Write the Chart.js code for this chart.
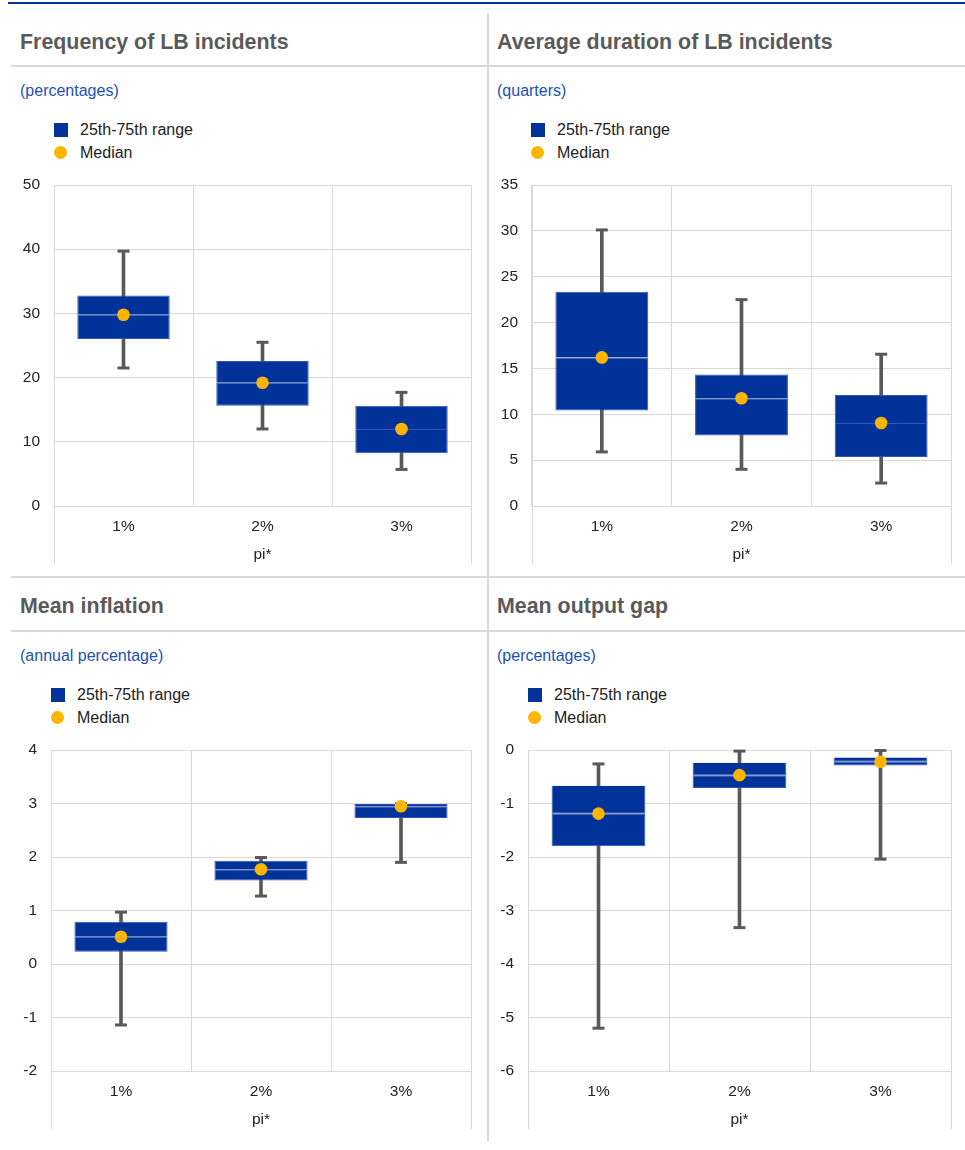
<!DOCTYPE html>
<html>
<head>
<meta charset="utf-8">
<script src="https://cdn.jsdelivr.net/npm/chart.js@4.4.0/dist/chart.umd.min.js"></script>
<style>
body { margin: 0; background: #fff; font-family: 'Liberation Sans', Arial, sans-serif; }
#page { position: relative; width: 965px; height: 1150px; overflow: hidden; }
.line { position: absolute; background: #d9d9d9; }
.title { position: absolute; height: 30px; line-height: 30px; font-size: 21.4px; font-weight: bold; color: #5a5a5a; white-space: nowrap; }
.sub { position: absolute; height: 20px; line-height: 20px; font-size: 16px; color: #1d4fb5; white-space: nowrap; }
.leg { position: absolute; height: 20px; line-height: 20px; font-size: 16px; color: #222; white-space: nowrap; }
.sq { position: absolute; width: 14px; height: 14px; background: #003299; }
.dot { position: absolute; width: 13px; height: 13px; border-radius: 50%; background: #ffb400; }
canvas { position: absolute; }
</style>
</head>
<body>
<div id="page">
    <div class="line" style="left:8px;top:2px;width:957px;height:2px;background:#003299"></div>
    <div class="line" style="left:487px;top:13px;width:2px;height:1128px"></div>
    <div class="line" style="left:11px;top:65px;width:954px;height:2px"></div>
    <div class="line" style="left:11px;top:576px;width:954px;height:2px"></div>
    <div class="line" style="left:11px;top:630px;width:954px;height:2px"></div>

    <div class="title" style="left:20px;top:27px">Frequency of LB incidents</div>
    <div class="title" style="left:497px;top:27px">Average duration of LB incidents</div>
    <div class="title" style="left:20px;top:591px">Mean inflation</div>
    <div class="title" style="left:497px;top:591px">Mean output gap</div>

    <div class="sub" style="left:20px;top:81px">(percentages)</div>
    <div class="sub" style="left:497px;top:81px">(quarters)</div>
    <div class="sub" style="left:20px;top:646px">(annual percentage)</div>
    <div class="sub" style="left:497px;top:646px">(percentages)</div>

    <div class="sq" style="left:54px;top:123px"></div>
    <div class="leg" style="left:80px;top:120px">25th-75th range</div>
    <div class="dot" style="left:54px;top:146px"></div>
    <div class="leg" style="left:80px;top:143px">Median</div>

    <div class="sq" style="left:531px;top:123px"></div>
    <div class="leg" style="left:557px;top:120px">25th-75th range</div>
    <div class="dot" style="left:531px;top:146px"></div>
    <div class="leg" style="left:557px;top:143px">Median</div>

    <div class="sq" style="left:51px;top:688px"></div>
    <div class="leg" style="left:77px;top:685px">25th-75th range</div>
    <div class="dot" style="left:51px;top:711px"></div>
    <div class="leg" style="left:77px;top:708px">Median</div>

    <div class="sq" style="left:528px;top:688px"></div>
    <div class="leg" style="left:554px;top:685px">25th-75th range</div>
    <div class="dot" style="left:528px;top:711px"></div>
    <div class="leg" style="left:554px;top:708px">Median</div>

    <canvas id="freqChart" width="480" height="394" style="left:0px;top:170px"></canvas>
    <canvas id="durChart" width="480" height="394" style="left:480px;top:170px"></canvas>
    <canvas id="inflChart" width="480" height="394" style="left:0px;top:735px"></canvas>
    <canvas id="gapChart" width="480" height="394" style="left:480px;top:735px"></canvas>
</div>
<script>
const categories = ['1%', '2%', '3%'];
const axisTitle = 'pi*';

// frequency of LB incidents (percentages)
const freqMin = [21.5, 12.0, 5.7];
const freqQ1 = [26.0, 15.6, 8.2];
const freqMedian = [29.8, 19.2, 12.0];
const freqQ3 = [32.8, 22.6, 15.6];
const freqMax = [39.7, 25.5, 17.7];
const freqAxis = [0, 50, 10];

// average duration (quarters)
const durMin = [5.9, 4.0, 2.5];
const durQ1 = [10.4, 7.7, 5.35];
const durMedian = [16.2, 11.75, 9.05];
const durQ3 = [23.35, 14.35, 12.1];
const durMax = [30.1, 22.5, 16.55];
const durAxis = [0, 35, 5];

// mean inflation (annual percentage)
const inflMin = [-1.14, 1.27, 1.9];
const inflQ1 = [0.23, 1.56, 2.73];
const inflMedian = [0.51, 1.77, 2.95];
const inflQ3 = [0.79, 1.93, 2.99];
const inflMax = [0.97, 1.99, 3.0];
const inflAxis = [-2, 4, 1];

// mean output gap (percentages)
const gapMin = [-5.2, -3.32, -2.04];
const gapQ1 = [-1.8, -0.71, -0.29];
const gapMedian = [-1.19, -0.47, -0.22];
const gapQ3 = [-0.67, -0.24, -0.14];
const gapMax = [-0.26, -0.02, -0.01];
const gapAxis = [-6, 0, 1];

const BLUE = '#003299';
const EDGE = '#2f56b0';
const YELLOW = '#ffb400';
const WHISKER = '#595959';
const GRID = '#d9d9d9';
const FONT = "'Liberation Sans', Arial, sans-serif";

// outer frame lines run on below the x axis, like the original
const framePlugin = {
    id: 'frame',
    afterDraw(chart) {
        const ctx = chart.ctx;
        const area = chart.chartArea;
        ctx.save();
        ctx.strokeStyle = GRID;
        ctx.lineWidth = 1;
        ctx.beginPath();
        for (let x of [area.left, area.right]) {
            const px = Math.round(x - 0.5) + 0.5;
            ctx.moveTo(px, area.bottom);
            ctx.lineTo(px, chart.height);
        }
        ctx.stroke();
        ctx.restore();
    }
};

function makeChart(id, yWidth, rightPad, axis, mins, q1s, medians, q3s, maxs) {
    const ctx = document.getElementById(id).getContext('2d');
    return new Chart(ctx, { // eslint-disable-line
        type: 'bar',
        data: {
            labels: categories,
            datasets: [{
                type: 'line',
                label: 'Median',
                data: medians,
                showLine: false,
                pointRadius: 6.3,
                pointHoverRadius: 6.3,
                pointBackgroundColor: YELLOW,
                pointBorderWidth: 0,
                order: 0
            },
            {
                label: '25th-75th range',
                data: categories.map((c, i) => [medians[i], q3s[i]]),
                backgroundColor: BLUE,
                borderColor: EDGE,
                borderWidth: 1,
                borderSkipped: 'bottom',
                grouped: false,
                barPercentage: 0.665,
                categoryPercentage: 1,
                order: 1
            },
            {
                label: '25th-75th range',
                data: categories.map((c, i) => [q1s[i], medians[i]]),
                backgroundColor: BLUE,
                borderColor: EDGE,
                borderWidth: 1,
                borderSkipped: false,
                grouped: false,
                barPercentage: 0.665,
                categoryPercentage: 1,
                order: 1
            },
            {
                type: 'line',
                label: 'max',
                data: maxs,
                showLine: false,
                pointStyle: 'line',
                pointRadius: 6,
                pointHoverRadius: 6,
                pointBorderColor: WHISKER,
                pointBorderWidth: 3,
                clip: false,
                order: 2
            },
            {
                type: 'line',
                label: 'min',
                data: mins,
                showLine: false,
                pointStyle: 'line',
                pointRadius: 6,
                pointHoverRadius: 6,
                pointBorderColor: WHISKER,
                pointBorderWidth: 3,
                clip: false,
                order: 2
            },
            {
                label: 'whisker',
                data: categories.map((c, i) => [mins[i], maxs[i]]),
                backgroundColor: WHISKER,
                borderWidth: 0,
                barThickness: 3,
                grouped: false,
                order: 3
            }]
        },
        options: {
            responsive: false,
            animation: false,
            events: [],
            layout: {
                padding: { top: 15, right: rightPad, bottom: 0, left: 0 }
            },
            plugins: {
                legend: { display: false },
                tooltip: { enabled: false }
            },
            scales: {
                x: {
                    offset: true,
                    grid: { offset: true, color: GRID, drawTicks: false },
                    border: { color: GRID },
                    ticks: { padding: 11, color: '#222', font: { family: FONT, size: 15.5 } },
                    title: {
                        display: true,
                        text: axisTitle,
                        color: '#222',
                        padding: { top: 0, bottom: 0 },
                        font: { family: FONT, size: 15.5 }
                    },
                    afterFit: (scale) => { scale.height = 58; }
                },
                y: {
                    min: axis[0],
                    max: axis[1],
                    grid: { color: GRID, drawTicks: false },
                    border: { color: GRID },
                    ticks: {
                        stepSize: axis[2],
                        padding: 14,
                        color: '#222',
                        font: { family: FONT, size: 15.5 }
                    },
                    afterFit: (scale) => {
                        scale.width = yWidth;
                        scale.paddingTop = 0;
                        scale.paddingBottom = 0;
                    }
                }
            }
        },
        plugins: [framePlugin]
    });
}

makeChart('freqChart', 54, 6, freqAxis, freqMin, freqQ1, freqMedian, freqQ3, freqMax);
makeChart('durChart', 52, 7, durAxis, durMin, durQ1, durMedian, durQ3, durMax);
makeChart('inflChart', 51, 6, inflAxis, inflMin, inflQ1, inflMedian, inflQ3, inflMax);
makeChart('gapChart', 48, 8, gapAxis, gapMin, gapQ1, gapMedian, gapQ3, gapMax);
</script>
</body>
</html>
